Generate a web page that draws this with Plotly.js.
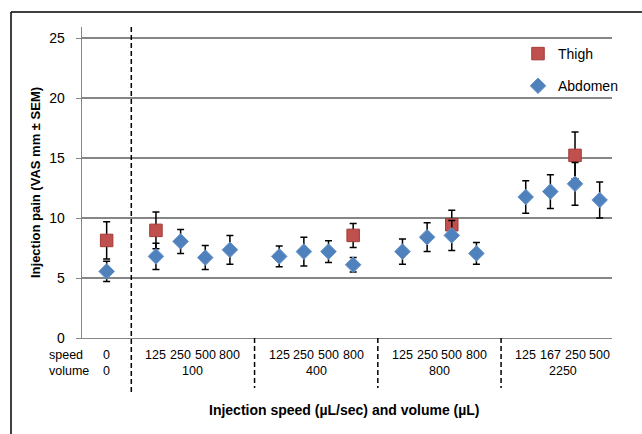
<!DOCTYPE html>
<html>
<head>
<meta charset="utf-8">
<script src="https://cdn.plot.ly/plotly-3.0.1.min.js"></script>
<style>html,body{margin:0;padding:0;background:#fff;}#chart{width:642px;height:434px;}</style>
</head>
<body>
<div id="chart"></div>
<script>
// ---- data ----
var volumes = ['0', '100', '400', '800', '2250'];
var speeds = [['0'], ['125', '250', '500', '800'], ['125', '250', '500', '800'], ['125', '250', '500', '800'], ['125', '167', '250', '500']];
var abdomen = [5.55, 6.8, 8.05, 6.7, 7.35, 6.8, 7.2, 7.2, 6.1, 7.2, 8.4, 8.55, 7.05, 11.75, 12.2, 12.85, 11.5];
var abdomenErr = [0.85, 1.1, 1.0, 1.0, 1.2, 0.87, 1.2, 0.9, 0.6, 1.05, 1.2, 1.25, 0.9, 1.36, 1.4, 1.78, 1.5];
var thigh = [8.13, 8.97, null, null, null, null, null, null, 8.55, null, null, 9.44, null, null, null, 15.22, null];
var thighErr = [1.55, 1.53, null, null, null, null, null, null, 1.0, null, null, 1.2, null, null, null, 1.95, null];
var yTicks = [0, 5, 10, 15, 20, 25];

// ---- category slot positions (one empty slot between groups) ----
var xs = [], speedLabels = [], groupCenters = [], separators = [];
var slot = 0;
speeds.forEach(function (g, gi) {
  var start = slot;
  g.forEach(function (s) { xs.push(slot); speedLabels.push(s); slot++; });
  groupCenters.push((start + slot - 1) / 2);
  if (gi < speeds.length - 1) { separators.push(slot); slot++; }
});

var font = 'Liberation Sans, Arial, sans-serif';
var traces = [
  {
    name: 'Thigh', x: xs, y: thigh, type: 'scatter', mode: 'markers',
    legendgroup: 'a',
    marker: { symbol: 'square', size: 12.5, color: '#c0504d', line: { color: '#a23b38', width: 1 } },
    error_y: { type: 'data', array: thighErr, visible: true, color: '#000', thickness: 1.5, width: 3.5 }
  },
  {
    name: 'Abdomen', x: xs, y: abdomen, type: 'scatter', mode: 'markers',
    legendgroup: 'b',
    marker: { symbol: 'diamond', size: 12, color: '#4f81bd', line: { color: '#6a94c8', width: 1 } },
    error_y: { type: 'data', array: abdomenErr, visible: true, color: '#000', thickness: 1.5, width: 3.5 }
  }
];

var PT = 27, PB = 338, PL = 82, PR = 612;
function py(px) { return (PB - px) / (PB - PT); }
function pxx(px) { return (px - PL) / (PR - PL); }

var shapes = [];
separators.forEach(function (s, i) {
  shapes.push({
    type: 'line', xref: 'x', yref: 'paper', x0: s, x1: s,
    y0: i === 0 ? 1 : 0, y1: i === 0 ? py(393) : py(388),
    line: { color: '#000', width: 1.5, dash: '5px,3px' }
  });
});
// outer frame (left and top edges)
shapes.push({ type: 'line', xref: 'paper', yref: 'paper', x0: pxx(11), x1: pxx(11), y0: py(12), y1: py(440), line: { color: '#000', width: 1.5 } });
shapes.push({ type: 'line', xref: 'paper', yref: 'paper', x0: pxx(11), x1: pxx(650), y0: py(12), y1: py(12), line: { color: '#000', width: 1.5 } });

var annotations = [];
xs.forEach(function (x, i) {
  annotations.push({ x: x, y: py(355), xref: 'x', yref: 'paper', text: speedLabels[i], showarrow: false,
    xanchor: 'center', yanchor: 'middle', font: { family: font, size: 12.5, color: '#000' } });
});
groupCenters.forEach(function (c, i) {
  annotations.push({ x: c, y: py(371), xref: 'x', yref: 'paper', text: volumes[i], showarrow: false,
    xanchor: 'center', yanchor: 'middle', font: { family: font, size: 12.5, color: '#000' } });
});
annotations.push({ x: pxx(47), y: py(355), xref: 'paper', yref: 'paper', text: 'speed', showarrow: false,
  xanchor: 'left', yanchor: 'middle', font: { family: font, size: 12.5, color: '#000' } });
annotations.push({ x: pxx(47), y: py(371), xref: 'paper', yref: 'paper', text: 'volume', showarrow: false,
  xanchor: 'left', yanchor: 'middle', font: { family: font, size: 12.5, color: '#000' } });
annotations.push({ x: pxx(344), y: py(410), xref: 'paper', yref: 'paper', text: '<b>Injection speed (µL/sec) and volume (µL)</b>', showarrow: false,
  xanchor: 'center', yanchor: 'middle', font: { family: font, size: 14, color: '#000' } });

var layout = {
  width: 642, height: 434,
  margin: { l: PL, r: 642 - PR, t: PT, b: 434 - PB, pad: 0 },
  paper_bgcolor: '#fff', plot_bgcolor: '#fff',
  showlegend: true,
  legend: { x: pxx(518), y: py(38), xanchor: 'left', yanchor: 'top', bgcolor: 'rgba(0,0,0,0)',
    font: { family: font, size: 14, color: '#000' }, tracegroupgap: 11, traceorder: 'grouped' },
  xaxis: { range: [-1, 20.5], showgrid: false, zeroline: false, showticklabels: false, ticks: '',
    showline: true, linecolor: '#868686', linewidth: 1.3, fixedrange: true },
  yaxis: { range: [0, (PB - PT) / 12], tickvals: yTicks, ticktext: yTicks.map(String), showgrid: true,
    gridcolor: '#868686', gridwidth: 1.3, zeroline: false, showline: true, linecolor: '#868686', linewidth: 1.3,
    ticks: 'outside', ticklen: 5, tickcolor: '#868686', ticklabelstandoff: 8,
    tickfont: { family: font, size: 14, color: '#000' },
    title: { text: '<b>Injection pain (VAS mm ± SEM)</b>', font: { family: font, size: 13, color: '#000' }, standoff: 5 } },
  shapes: shapes,
  annotations: annotations
};

Plotly.newPlot('chart', traces, layout, { displayModeBar: false, staticPlot: true });
</script>
</body>
</html>
